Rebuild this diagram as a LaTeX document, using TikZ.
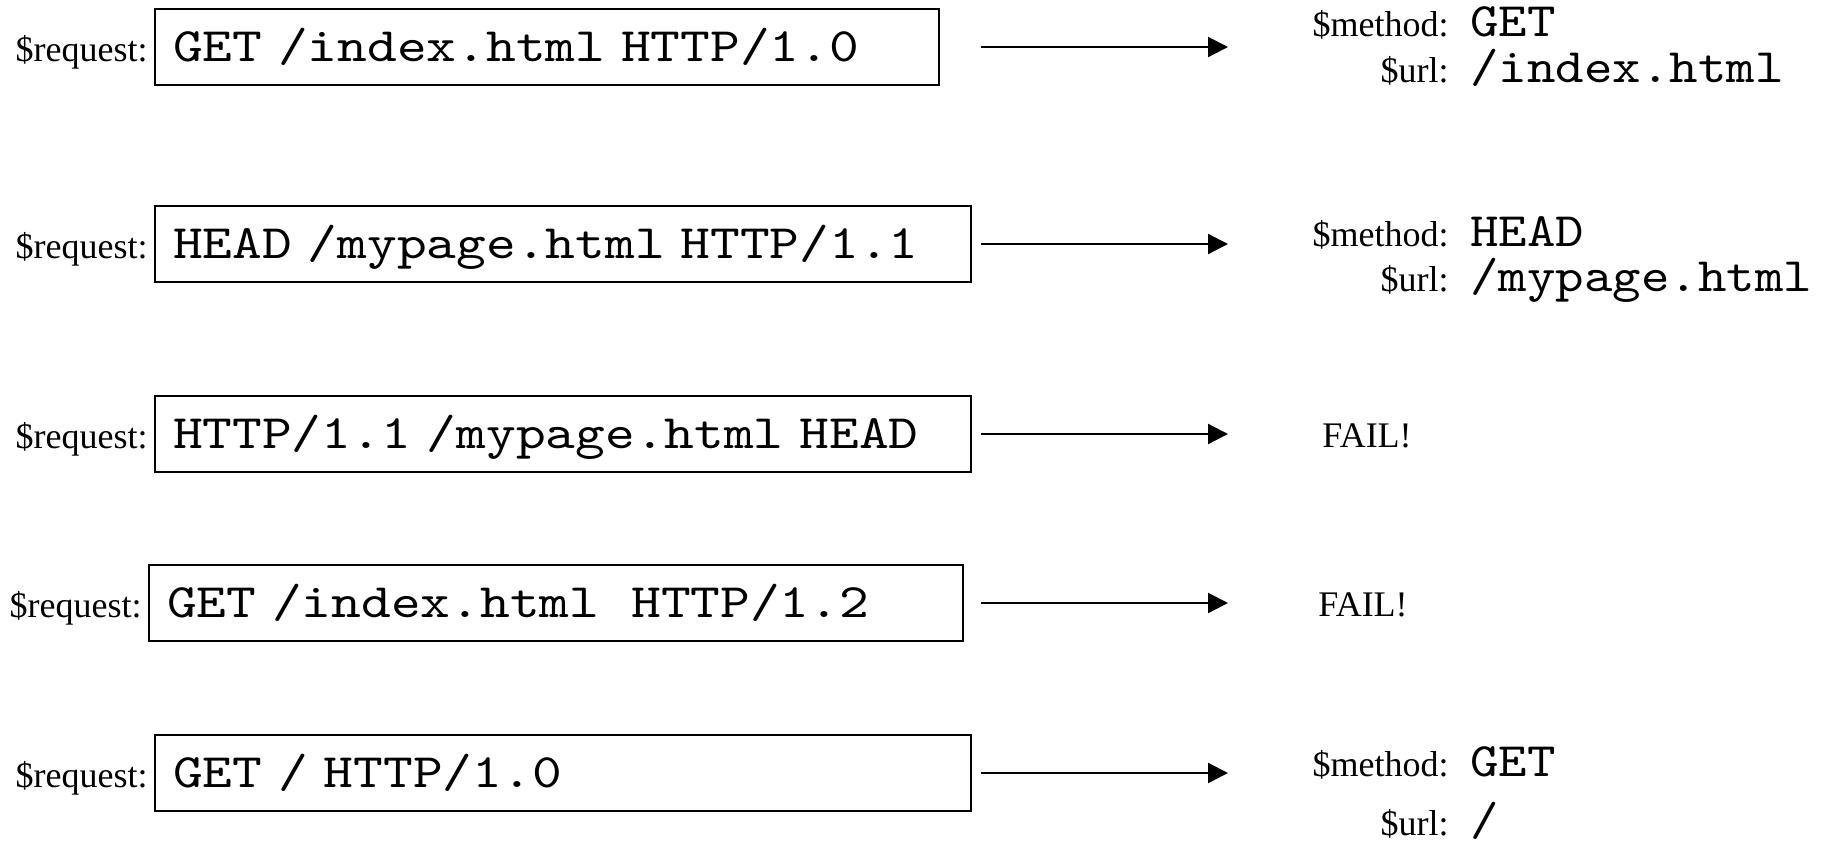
\documentclass[tikz,border=0pt]{standalone}
\usepackage{fontspec}
\setmainfont{Liberation Serif}
\newfontfamily\boxmono{lmmono10-regular.otf}[FakeStretch=1.18]
\newfontfamily\resmono{lmmono10-regular.otf}[FakeStretch=1.13]
\usetikzlibrary{arrows.meta}
\tikzset{
	reqbox/.style={draw,line width=1pt,anchor=west,inner xsep=9pt,inner ysep=0pt,minimum height=38pt,
		text height=16pt,text depth=1.3pt,align=left,font=\fontsize{24}{26}\selectfont\boxmono},
	reqlbl/.style={anchor=east,inner sep=0pt,xshift=-3pt,text height=16pt,text depth=1.3pt,
		font=\fontsize{18}{20}\selectfont},
	reslbl/.style={anchor=base east,inner sep=0pt,font=\fontsize{18}{20}\selectfont},
	resval/.style={anchor=base west,inner sep=0pt,font=\fontsize{24}{26}\selectfont\resmono},
	failtxt/.style={anchor=base west,inner sep=0pt,font=\fontsize{18}{20}\selectfont},
	flow/.style={line width=1.1pt,-{Triangle[length=10pt,width=10pt]}}
}
\begin{document}
\begin{tikzpicture}[x=0.5pt,y=-0.5pt]
					\useasboundingbox (0,0) rectangle (1833,842);
					
					\node[reqbox,text width=374pt] (r1) at (154,47) {GET /index.html HTTP/1.0};
					\node[reqbox,text width=390pt] (r2) at (154,244) {HEAD /mypage.html HTTP/1.1};
					\node[reqbox,text width=390pt] (r3) at (154,434) {HTTP/1.1 /mypage.html HEAD};
					\node[reqbox,text width=389pt] (r4) at (148,603) {GET /index.html~ HTTP/1.2};
					\node[reqbox,text width=390pt] (r5) at (154,773) {GET / HTTP/1.0};
					
					\node[reqlbl] (l1) at (r1.west) {\$request:};
					\node[reqlbl] (l2) at (r2.west) {\$request:};
					\node[reqlbl] (l3) at (r3.west) {\$request:};
					\node[reqlbl] (l4) at (r4.west) {\$request:};
					\node[reqlbl] (l5) at (r5.west) {\$request:};
					
					\coordinate (a1) at (981,47);  \coordinate (b1) at (1228,47);
					\coordinate (a2) at (981,244); \coordinate (b2) at (1228,244);
					\coordinate (a3) at (981,434); \coordinate (b3) at (1228,434);
					\coordinate (a4) at (981,603); \coordinate (b4) at (1228,603);
					\coordinate (a5) at (981,773); \coordinate (b5) at (1228,773);
					\draw[flow] (a1) -- (b1);
					\draw[flow] (a2) -- (b2);
					\draw[flow] (a3) -- (b3);
					\draw[flow] (a4) -- (b4);
					\draw[flow] (a5) -- (b5);
					
					\node[reslbl] (m1) at (1449,36) {\$method:};
					\node[resval] (v1) at (1470,36) {GET};
					\node[reslbl] (u1) at (1449,82) {\$url:};
					\node[resval] (p1) at (1470,82) {/index.html};
					
					\node[reslbl] (m2) at (1449,246) {\$method:};
					\node[resval] (v2) at (1470,246) {HEAD};
					\node[reslbl] (u2) at (1449,291) {\$url:};
					\node[resval] (p2) at (1470,291) {/mypage.html};
					
					\node[failtxt] (f3) at (1322,447) {FAIL!};
					\node[failtxt] (f4) at (1318,616) {FAIL!};
					
					\node[reslbl] (m5) at (1449,776) {\$method:};
					\node[resval] (v5) at (1470,776) {GET};
					\node[reslbl] (u5) at (1449,835) {\$url:};
					\node[resval] (p5) at (1470,835) {/};
				\end{tikzpicture}
\end{document}
